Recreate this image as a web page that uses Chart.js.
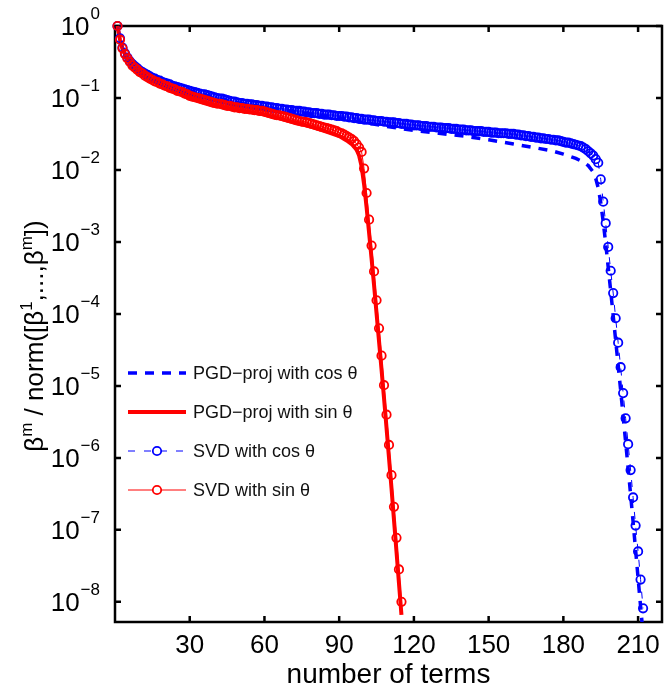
<!DOCTYPE html>
<html>
<head>
<meta charset="utf-8">
<script src="https://cdn.jsdelivr.net/npm/chart.js@4.4.1/dist/chart.umd.min.js"></script>
<style>
  html, body { margin: 0; padding: 0; background: #fff; }
  canvas { display: block; }
</style>
</head>
<body>
<canvas id="chart" width="668" height="688"></canvas>
<script>
// log10 of beta^m / norm (one value per term, starting at m = 1)
const svdCosExp = [
  0, -0.17, -0.30, -0.38, -0.44, -0.49, -0.53, -0.56, -0.59, -0.62,
  -0.64, -0.66, -0.68, -0.70, -0.72, -0.73, -0.75, -0.76, -0.78, -0.79,
  -0.80, -0.81, -0.83, -0.84, -0.85, -0.86, -0.87, -0.88, -0.89, -0.90,
  -0.91, -0.92, -0.93, -0.94, -0.95, -0.95, -0.96, -0.97, -0.98, -0.99,
  -1.00, -1.01, -1.01, -1.02, -1.03, -1.04, -1.05, -1.05, -1.06, -1.07,
  -1.07, -1.08, -1.08, -1.09, -1.09, -1.10, -1.10, -1.11, -1.11, -1.12,
  -1.12, -1.13, -1.13, -1.14, -1.14, -1.15, -1.15, -1.16, -1.16, -1.17,
  -1.17, -1.18, -1.18, -1.18, -1.19, -1.19, -1.20, -1.20, -1.21, -1.21,
  -1.21, -1.22, -1.22, -1.23, -1.23, -1.23, -1.24, -1.24, -1.25, -1.25,
  -1.25, -1.26, -1.26, -1.27, -1.27, -1.28, -1.28, -1.29, -1.29, -1.30,
  -1.30, -1.30, -1.31, -1.31, -1.32, -1.32, -1.32, -1.33, -1.33, -1.34,
  -1.34, -1.34, -1.35, -1.35, -1.36, -1.36, -1.36, -1.37, -1.37, -1.38,
  -1.38, -1.38, -1.39, -1.39, -1.39, -1.40, -1.40, -1.40, -1.41, -1.41,
  -1.41, -1.42, -1.42, -1.42, -1.43, -1.43, -1.43, -1.44, -1.44, -1.44,
  -1.45, -1.45, -1.45, -1.46, -1.46, -1.46, -1.46, -1.47, -1.47, -1.47,
  -1.48, -1.48, -1.48, -1.49, -1.49, -1.49, -1.49, -1.50, -1.50, -1.50,
  -1.51, -1.51, -1.52, -1.52, -1.53, -1.53, -1.54, -1.54, -1.55, -1.55,
  -1.56, -1.56, -1.57, -1.57, -1.58, -1.58, -1.59, -1.59, -1.60, -1.61,
  -1.62, -1.62, -1.63, -1.64, -1.65, -1.66, -1.67, -1.69, -1.71, -1.74,
  -1.77, -1.80, -1.85, -1.90, -2.13, -2.44, -2.74, -3.07, -3.40, -3.71,
  -4.06, -4.40, -4.74, -5.10, -5.45, -5.81, -6.17, -6.55, -6.94, -7.30,
  -7.69, -8.09
];
const svdSinExp = [
  0, -0.19, -0.31, -0.39, -0.45, -0.50, -0.55, -0.58, -0.61, -0.64,
  -0.66, -0.69, -0.71, -0.73, -0.75, -0.77, -0.78, -0.80, -0.81, -0.83,
  -0.84, -0.86, -0.87, -0.88, -0.90, -0.91, -0.92, -0.94, -0.95, -0.97,
  -0.98, -0.99, -1.00, -1.01, -1.02, -1.03, -1.04, -1.05, -1.06, -1.07,
  -1.08, -1.08, -1.09, -1.10, -1.11, -1.11, -1.12, -1.13, -1.13, -1.14,
  -1.14, -1.15, -1.15, -1.16, -1.16, -1.17, -1.17, -1.18, -1.18, -1.19,
  -1.20, -1.21, -1.22, -1.23, -1.24, -1.24, -1.25, -1.26, -1.27, -1.28,
  -1.29, -1.30, -1.31, -1.32, -1.33, -1.33, -1.34, -1.35, -1.36, -1.37,
  -1.38, -1.39, -1.40, -1.41, -1.42, -1.43, -1.44, -1.45, -1.46, -1.48,
  -1.49, -1.51, -1.53, -1.55, -1.57, -1.60, -1.64, -1.69, -1.75, -1.98,
  -2.32, -2.69, -3.05, -3.41, -3.81, -4.20, -4.58, -4.99, -5.40, -5.82,
  -6.24, -6.68, -7.11, -7.55, -8.00
];
// PGD curves: read at a set of terms
const pgdCosX = [1, 2, 3, 5, 8, 12, 20, 30, 40, 50, 60, 70, 80, 90, 100, 110, 120, 130, 140, 150, 160, 170,
  175, 180, 185, 188, 190, 192, 193, 194, 195, 196, 197, 198, 199, 200, 201, 202, 203, 204, 205, 206, 207,
  208, 209, 210, 211, 212];
const pgdCosExp = [0, -0.17, -0.30, -0.44, -0.56, -0.66, -0.79, -0.90, -0.99, -1.07, -1.13, -1.18, -1.23, -1.28,
  -1.34, -1.40, -1.45, -1.49, -1.53, -1.58, -1.64, -1.70, -1.73, -1.78, -1.84, -1.89, -1.94, -2.03, -2.12, -2.25,
  -2.45, -2.72, -3.02, -3.35, -3.68, -4.02, -4.37, -4.71, -5.06, -5.42, -5.78, -6.14, -6.51, -6.89, -7.28, -7.67,
  -8.06, -8.45];
const pgdSinX = [1, 2, 3, 5, 8, 12, 20, 30, 40, 50, 60, 70, 80, 86, 90, 93, 95, 97, 98, 99, 100, 101, 102, 103,
  104, 105, 106, 107, 108, 109, 110, 111, 112, 113, 114, 115];
const pgdSinExp = [0, -0.19, -0.32, -0.46, -0.59, -0.70, -0.85, -0.99, -1.10, -1.17, -1.23, -1.32, -1.41, -1.48,
  -1.53, -1.59, -1.64, -1.72, -1.80, -1.95, -2.20, -2.52, -2.87, -3.23, -3.60, -3.99, -4.38, -4.77, -5.17, -5.58,
  -6.00, -6.42, -6.86, -7.30, -7.74, -8.18];

const xTicks = [30, 60, 90, 120, 150, 180, 210];
const yTickExps = [0, -1, -2, -3, -4, -5, -6, -7, -8];
const seriesLabels = ['PGD\u2212proj with cos \u03b8', 'PGD\u2212proj with sin \u03b8', 'SVD with cos \u03b8', 'SVD with sin \u03b8'];

const FONT = '"Liberation Sans", Arial, Helvetica, sans-serif';
const BLUE = '#0000ff';
const RED = '#ff0000';

const toPoints = (xs, exps) => exps.map((e, i) => ({ x: xs ? xs[i] : i + 1, y: Math.pow(10, e) }));
const clipBox = { left: 8, top: 8, right: 8, bottom: 0 };

const axisDecor = {
  id: 'axisDecor',
  beforeDatasetsDraw(chart) {
    const { ctx, chartArea: a, scales: { x, y } } = chart;
    ctx.save();
    ctx.strokeStyle = '#000';
    ctx.lineWidth = 2.5;
    ctx.beginPath();
    xTicks.forEach(t => {
      const px = x.getPixelForValue(t);
      ctx.moveTo(px, a.bottom); ctx.lineTo(px, a.bottom - 6);
      ctx.moveTo(px, a.top); ctx.lineTo(px, a.top + 6);
    });
    yTickExps.forEach(e => {
      const py = y.getPixelForValue(Math.pow(10, e));
      ctx.moveTo(a.left, py); ctx.lineTo(a.left + 6, py);
      ctx.moveTo(a.right, py); ctx.lineTo(a.right - 6, py);
    });
    ctx.stroke();
    ctx.strokeRect(a.left, a.top, a.right - a.left, a.bottom - a.top);
    ctx.restore();
  },
  afterDraw(chart) {
    const { ctx, chartArea: a, scales: { x, y } } = chart;
    ctx.save();
    ctx.fillStyle = '#000';

    // x tick labels
    ctx.font = '26px ' + FONT;
    ctx.textAlign = 'center';
    ctx.textBaseline = 'alphabetic';
    xTicks.forEach(t => ctx.fillText(String(t), x.getPixelForValue(t), 653));

    // y tick labels 10^e
    yTickExps.forEach(e => {
      const py = y.getPixelForValue(Math.pow(10, e));
      const ex = e === 0 ? '0' : '\u2212' + Math.abs(e);
      ctx.font = '17px ' + FONT;
      const ew = ctx.measureText(ex).width;
      ctx.textAlign = 'left';
      ctx.textBaseline = 'alphabetic';
      ctx.fillText(ex, 100 - ew, py - 7);
      ctx.font = '26px ' + FONT;
      ctx.textAlign = 'right';
      ctx.fillText('10', 100 - ew - 1, py + 9);
    });

    // x title
    ctx.font = '28px ' + FONT;
    ctx.textAlign = 'center';
    ctx.fillText('number of terms', (a.left + a.right) / 2, 683);

    // y title with superscripts
    const parts = [['\u03b2', 0], ['m', 1], [' / norm([\u03b2', 0], ['1', 1], [',...,\u03b2', 0], ['m', 1], ['])', 0]];
    const mainF = '26px ' + FONT, supF = '17px ' + FONT;
    let total = 0;
    parts.forEach(p => { ctx.font = p[1] ? supF : mainF; total += ctx.measureText(p[0]).width; });
    ctx.translate(43, 336);
    ctx.rotate(-Math.PI / 2);
    ctx.textAlign = 'left';
    let cx = -total / 2;
    parts.forEach(p => {
      ctx.font = p[1] ? supF : mainF;
      ctx.fillText(p[0], cx, p[1] ? -11 : 0);
      cx += ctx.measureText(p[0]).width;
    });
    ctx.setTransform(1, 0, 0, 1, 0, 0);

    // legend (no box), styles taken from the datasets
    const rows = [373, 412, 451, 490];
    chart.data.datasets.forEach((ds, i) => {
      const ry = rows[i];
      ctx.save();
      ctx.strokeStyle = ds.borderColor;
      ctx.lineWidth = ds.borderWidth;
      ctx.setLineDash(ds.borderDash || []);
      ctx.beginPath();
      ctx.moveTo(128, ry); ctx.lineTo(186, ry);
      ctx.stroke();
      if (ds.pointRadius > 0) {
        ctx.setLineDash([]);
        ctx.lineWidth = ds.pointBorderWidth;
        ctx.fillStyle = '#fff';
        ctx.beginPath();
        ctx.arc(157, ry, ds.pointRadius, 0, Math.PI * 2);
        ctx.fill();
        ctx.stroke();
      }
      ctx.restore();
      ctx.font = '18px ' + FONT;
      ctx.textAlign = 'left';
      ctx.textBaseline = 'middle';
      ctx.fillStyle = '#111';
      ctx.fillText(ds.label, 193, ry + 1);
    });
    ctx.restore();
  }
};

new Chart(document.getElementById('chart').getContext('2d'), {
  type: 'line',
  data: {
    datasets: [
      {
        label: seriesLabels[0],
        data: toPoints(pgdCosX, pgdCosExp),
        borderColor: BLUE, borderWidth: 3.5, borderDash: [9, 8],
        pointRadius: 0, order: 4, clip: clipBox
      },
      {
        label: seriesLabels[1],
        data: toPoints(pgdSinX, pgdSinExp),
        borderColor: RED, borderWidth: 4,
        pointRadius: 0, order: 3, clip: clipBox
      },
      {
        label: seriesLabels[2],
        data: toPoints(null, svdCosExp),
        borderColor: BLUE, borderWidth: 1, borderDash: [7, 9],
        pointRadius: 4.2, pointBorderWidth: 1.8, pointBorderColor: BLUE,
        pointBackgroundColor: 'rgba(0,0,0,0)', order: 2, clip: clipBox
      },
      {
        label: seriesLabels[3],
        data: toPoints(null, svdSinExp),
        borderColor: RED, borderWidth: 1,
        pointRadius: 4.2, pointBorderWidth: 1.8, pointBorderColor: RED,
        pointBackgroundColor: 'rgba(0,0,0,0)', order: 1, clip: clipBox
      }
    ]
  },
  options: {
    responsive: false,
    animation: false,
    devicePixelRatio: 1,
    layout: { padding: { left: 115, right: 4, top: 26, bottom: 66 } },
    elements: { line: { tension: 0 } },
    plugins: { legend: { display: false }, tooltip: { enabled: false } },
    scales: {
      x: { type: 'linear', min: 0, max: 219.6, display: false },
      y: { type: 'logarithmic', min: Math.pow(10, -8.28), max: 1, display: false }
    }
  },
  plugins: [axisDecor]
});
</script>
</body>
</html>
